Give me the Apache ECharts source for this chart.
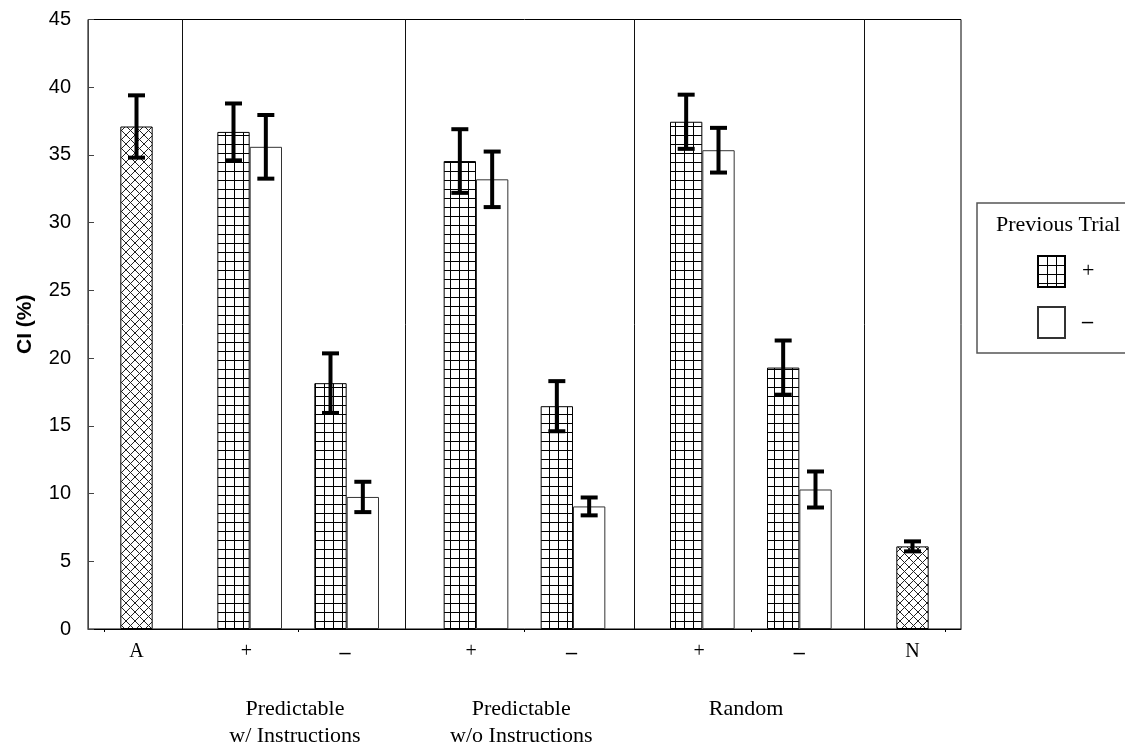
<!DOCTYPE html>
<html>
<head>
<meta charset="utf-8">
<script src="https://cdn.jsdelivr.net/npm/echarts@6/dist/echarts.min.js"></script>
<style>
html,body{margin:0;padding:0;background:#fff;}
#chart{width:1125px;height:748px;}
</style>
</head>
<body>
<div id="chart"></div>
<script>
// ---------------- data ----------------
const slotCount = 27;                       // category slots along the x axis
const yTicks = [0, 45, 5];                  // min, max, interval
// single-condition bars (A and N)
const singleSlots = [1, 25];
const singleMeans = [37.1, 6.1];
const singleErr   = [2.3, 0.37];
// previous trial "+" (grid pattern)
const plusSlots = [4, 7, 11, 14, 18, 21];
const plusMeans = [36.7, 18.15, 34.55, 16.45, 37.45, 19.3];
const plusErr   = [2.1, 2.2, 2.35, 1.85, 2.0, 2.0];
// previous trial "–" (white)
const minusSlots = [5, 8, 12, 15, 19, 22];
const minusMeans = [35.6, 9.75, 33.2, 9.05, 35.35, 10.3];
const minusErr   = [2.35, 1.12, 2.05, 0.66, 1.65, 1.33];
// axis labels
const xLabels   = ['A', '+', '–', '+', '–', '+', '–', 'N'];
const xLabelPos = [1.5, 4.9, 7.95, 11.85, 14.95, 18.9, 22, 25.5];
const groupLabels = ['Predictable\nw/ Instructions', 'Predictable\nw/o Instructions', 'Random'];
const groupPos    = [6.4, 13.4, 20.35];
const groupTickPos = [0.5, 6.5, 13.5, 20.5, 26.5];
const dividerPos  = [2.91, 9.81, 16.88, 24.0];
const legendTitle = 'Previous Trial';
const yName = 'CI (%)';

// ---------------- patterns ----------------
function gridPattern() {
  const n = 9;
  const c = document.createElement('canvas');
  c.width = n; c.height = n;
  const g = c.getContext('2d');
  g.fillStyle = '#fff'; g.fillRect(0, 0, n, n);
  g.fillStyle = '#000';
  g.fillRect(0, 0, n, 1);
  g.fillRect(0, 0, 1, n);
  return c;
}
function crossPattern() {
  const n = 9;
  const c = document.createElement('canvas');
  c.width = n; c.height = n;
  const g = c.getContext('2d');
  g.fillStyle = '#fff'; g.fillRect(0, 0, n, n);
  g.strokeStyle = '#222'; g.lineWidth = 1;
  g.beginPath();
  g.moveTo(-1, -1); g.lineTo(n + 1, n + 1);
  g.moveTo(n + 1, -1); g.lineTo(-1, n + 1);
  g.stroke();
  return c;
}

function slotData(slots, vals) {
  const arr = new Array(slotCount).fill(null);
  slots.forEach((s, i) => { arr[s] = vals[i]; });
  return arr;
}
function errData(slots, means, errs) {
  return slots.map((s, i) => [s, means[i] - errs[i], means[i] + errs[i]]);
}

const categories = Array.from({length: slotCount}, (_, i) => 'c' + i);
const errAll = [].concat(
  errData(singleSlots, singleMeans, singleErr),
  errData(plusSlots, plusMeans, plusErr),
  errData(minusSlots, minusMeans, minusErr)
);

const serif = 'Liberation Serif';
const sans = 'Liberation Sans';

const chart = echarts.init(document.getElementById('chart'), null, {renderer: 'canvas', devicePixelRatio: 1});

const barCommon = {
  type: 'bar',
  xAxisIndex: 0,
  yAxisIndex: 0,
  barGap: '-100%',
  barCategoryGap: '0%',
  silent: true,
  animation: false
};

function labelRich() {
  return {
    dash: {fontFamily: serif, fontSize: 22, fontWeight: 'bold', color: '#000'}
  };
}

const option = {
  backgroundColor: '#fff',
  animation: false,
  grid: {
    left: 88, right: 164, top: 19.5, bottom: 119,
    outerBoundsMode: 'none',
    containLabel: false,
    show: true, borderColor: '#000', borderWidth: 1, backgroundColor: 'transparent'
  },
  title: {
    text: legendTitle,
    left: 991, top: 209,
    textStyle: {fontFamily: serif, fontSize: 22, fontWeight: 'normal', color: '#000'}
  },
  legend: {
    data: ['+', '–'],
    orient: 'vertical',
    left: 1032, top: 250,
    itemWidth: 27, itemHeight: 31, itemGap: 18,
    icon: 'rect',
    selectedMode: false,
    formatter: function (n) { return n === '–' ? '{dash|–}' : n; },
    textStyle: {fontFamily: serif, fontSize: 22, color: '#000', padding: [0, 0, 0, 12], rich: labelRich()}
  },
  graphic: [{
    type: 'rect',
    shape: {x: 977, y: 203, width: 200, height: 150},
    style: {fill: 'none', stroke: '#555', lineWidth: 1.5},
    silent: true
  }],
  xAxis: [{
    type: 'category',
    data: categories,
    boundaryGap: true,
    axisLine: {show: true, lineStyle: {color: '#000', width: 1}},
    axisTick: {show: false},
    axisLabel: {show: false},
    splitLine: {show: false}
  }, {
    type: 'value',
    min: 0, max: slotCount,
    position: 'bottom',
    axisLine: {show: false},
    axisTick: {show: false},
    splitLine: {show: false},
    axisLabel: {
      show: true,
      customValues: xLabelPos,
      margin: 13,
      fontFamily: serif, fontSize: 20, color: '#000',
      rich: labelRich(),
      formatter: function (v) {
        const i = xLabelPos.findIndex(p => Math.abs(p - v) < 1e-6);
        if (i < 0) return '';
        return xLabels[i] === '–' ? '{dash|–}' : xLabels[i];
      }
    }
  }, {
    type: 'value',
    min: 0, max: slotCount,
    position: 'bottom',
    axisLine: {show: false},
    axisTick: {show: true, customValues: groupTickPos, length: 3, lineStyle: {color: '#000'}},
    splitLine: {show: false},
    axisLabel: {
      show: true,
      customValues: groupPos,
      margin: 67,
      fontFamily: serif, fontSize: 22, color: '#000', lineHeight: 27,
      formatter: function (v) {
        const i = groupPos.findIndex(p => Math.abs(p - v) < 1e-6);
        return i >= 0 ? groupLabels[i] : '';
      }
    }
  }],
  yAxis: {
    type: 'value',
    min: yTicks[0], max: yTicks[1], interval: yTicks[2],
    name: yName,
    nameLocation: 'middle',
    nameGap: 52,
    nameTextStyle: {fontFamily: sans, fontSize: 21, fontWeight: 'bold', color: '#000'},
    axisLine: {show: true, lineStyle: {color: '#444', width: 1}},
    axisTick: {show: true, inside: true, length: 6, lineStyle: {color: '#444'}},
    axisLabel: {margin: 17, fontFamily: sans, fontSize: 20, color: '#000'},
    splitLine: {show: false}
  },
  series: [
    Object.assign({}, barCommon, {
      name: 'single',
      data: slotData(singleSlots, singleMeans),
      itemStyle: {color: {image: crossPattern(), repeat: 'repeat'}, borderColor: '#000', borderWidth: 1}
    }),
    Object.assign({}, barCommon, {
      name: '+',
      data: slotData(plusSlots, plusMeans),
      itemStyle: {color: {image: gridPattern(), repeat: 'repeat'}, borderColor: '#000', borderWidth: 1}
    }),
    Object.assign({}, barCommon, {
      name: '–',
      data: slotData(minusSlots, minusMeans),
      itemStyle: {color: '#fff', borderColor: '#333', borderWidth: 1}
    }),
    {
      type: 'custom',
      name: 'dividers',
      xAxisIndex: 1,
      yAxisIndex: 0,
      silent: true,
      z: 5,
      data: dividerPos.map(v => [v, yTicks[0]]),
      encode: {x: 0, y: 1},
      renderItem: function (params, api) {
        const x = api.value(0);
        const p0 = api.coord([x, yTicks[0]]);
        const p1 = api.coord([x, yTicks[1]]);
        return {
          type: 'line',
          shape: {x1: Math.round(p0[0]) + 0.5, y1: p0[1], x2: Math.round(p1[0]) + 0.5, y2: p1[1]},
          style: {stroke: '#111', lineWidth: 1}
        };
      }
    },
    {
      type: 'custom',
      name: 'errors',
      xAxisIndex: 0,
      yAxisIndex: 0,
      silent: true,
      z: 10,
      data: errAll,
      encode: {x: 0, y: [1, 2]},
      renderItem: function (params, api) {
        const x = api.value(0);
        const lo = api.coord([x, api.value(1)]);
        const hi = api.coord([x, api.value(2)]);
        const hw = 8.5;
        const st = {stroke: '#000', lineWidth: 4};
        return {
          type: 'group',
          children: [
            {type: 'line', shape: {x1: lo[0], y1: lo[1], x2: hi[0], y2: hi[1]}, style: st},
            {type: 'line', shape: {x1: lo[0] - hw, y1: lo[1], x2: lo[0] + hw, y2: lo[1]}, style: st},
            {type: 'line', shape: {x1: hi[0] - hw, y1: hi[1], x2: hi[0] + hw, y2: hi[1]}, style: st}
          ]
        };
      }
    }
  ]
};

chart.setOption(option);
</script>
</body>
</html>
